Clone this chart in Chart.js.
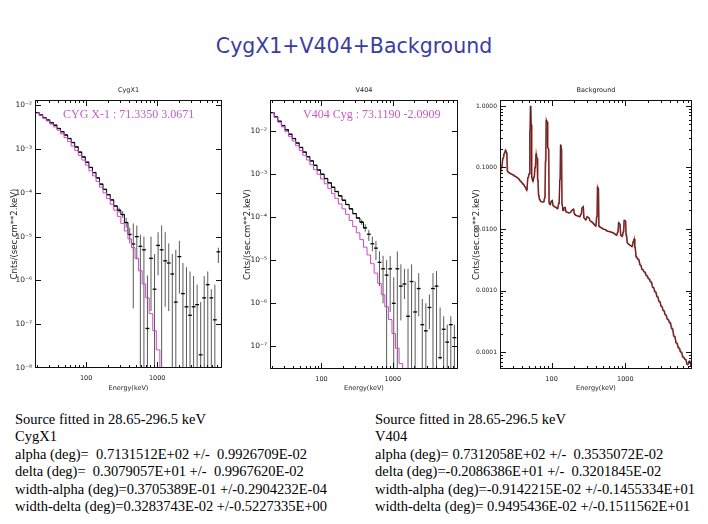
<!DOCTYPE html>
<html><head><meta charset="utf-8">
<script src="https://cdn.jsdelivr.net/npm/chart.js@4.4.0/dist/chart.umd.min.js"></script>
<style>
html,body{margin:0;padding:0;background:#fff;width:708px;height:524px;overflow:hidden;}
body{position:relative;}
canvas{position:absolute;}
#title{position:absolute;left:0;width:708px;top:33px;text-align:center;font-family:"DejaVu Sans";font-size:20.5px;line-height:26px;color:#3c3ca0;}
.txt{position:absolute;font-family:"Liberation Serif";font-size:14.5px;line-height:17.4px;white-space:pre;color:#000;}
.ann{position:absolute;font-family:"Liberation Serif";font-size:12px;line-height:14px;color:#c55ac5;white-space:pre;z-index:5;}
</style></head><body>
<div id="title">CygX1+V404+Background</div>
<canvas id="c1" width="240" height="320" style="left:0;top:80px"></canvas>
<canvas id="c2" width="240" height="320" style="left:240px;top:80px"></canvas>
<canvas id="c3" width="238" height="320" style="left:470px;top:80px"></canvas>
<div class="ann" style="left:63px;top:107px">CYG X-1 : 71.3350 3.0671</div>
<div class="ann" style="left:303px;top:107px">V404 Cyg : 73.1190 -2.0909</div>
<div class="txt" style="left:15px;top:411px">Source fitted in 28.65-296.5 keV
CygX1
alpha (deg)=  0.7131512E+02 +/-  0.9926709E-02
delta (deg)=  0.3079057E+01 +/-  0.9967620E-02
width-alpha (deg)=0.3705389E-01 +/-0.2904232E-04
width-delta (deg)=0.3283743E-02 +/-0.5227335E+00</div>
<div class="txt" style="left:375px;top:411px">Source fitted in 28.65-296.5 keV
V404
alpha (deg)= 0.7312058E+02 +/-  0.3535072E-02
delta (deg)=-0.2086386E+01 +/-  0.3201845E-02
width-alpha (deg)=-0.9142215E-02 +/-0.1455334E+01
width-delta (deg)= 0.9495436E-02 +/-0.1511562E+01</div>
<script>
// ---------------- data ----------------
const energy = [20.6, 23.1, 25.9, 29.1, 32.6, 36.6, 41.1, 46.1, 51.7, 58.0,
  65.1, 73.0, 81.9, 91.9, 103, 116, 130, 146, 163, 183,
  206, 231, 259, 291, 326, 366, 411, 461, 517, 580,
  651, 730, 819, 919, 1031, 1157, 1298, 1456, 1634, 1833,
  2057, 2308, 2589, 2905, 3260, 3657, 4103, 4604, 5166, 5796,
  6503, 7297];

const cygData = [6.8e-3, 6.0e-3, 5.2e-3, 4.6e-3, 4.0e-3, 3.5e-3, 2.95e-3, 2.5e-3, 2.1e-3, 1.74e-3,
  1.41e-3, 1.12e-3, 8.5e-4, 6.6e-4, 5.0e-4, 3.8e-4, 2.9e-4, 2.2e-4, 1.58e-4, 1.2e-4,
  9.1e-5, 6.9e-5, 5.0e-5, 4.0e-5, 3.2e-5, 2.1e-5, 1.12e-5, 6.8e-6, 1.0e-5, 6.0e-6,
  5.0e-6, 8e-8, 3.2e-6, 6.3e-7, 6.3e-6, 5.0e-6, 2.8e-6, 2.5e-6, 1.4e-6, 3.2e-7,
  3.5e-6, 5.0e-7, 2.5e-7, 1.6e-7, 2.5e-7, 2.8e-7, 2.0e-8, 4.0e-7, 8e-7, 4.0e-7,
  1.26e-7, 4.5e-6];
const cygErrLo = [null, null, null, null, null, null, null, null, null, null,
  null, null, null, null, null, null, null, null, null, null,
  null, null, null, 3.5e-5, 2.7e-5, 1.6e-5, 7e-6, 2.3e-7, 3e-6, 1e-10,
  1e-10, 1e-10, 2e-7, 1e-10, 1.3e-6, 1e-10, 2.5e-7, 2e-7, 1e-10, 1e-10,
  5e-7, 1e-10, 1e-10, 1e-10, 1e-10, 1e-10, 1e-10, 1e-10, 1e-10, 1e-10,
  1e-10, 2.5e-6];
const cygErrHi = [null, null, null, null, null, null, null, null, null, null,
  null, null, null, null, null, null, null, null, null, null,
  null, null, null, 4.6e-5, 3.8e-5, 2.7e-5, 1.6e-5, 2.0e-5, 1.8e-5, 1.1e-5,
  1.0e-5, 1.3e-6, 1.0e-5, 4e-6, 1.26e-5, 1.8e-5, 1.26e-5, 7e-6, 4e-6, 5e-6,
  8e-6, 2.5e-6, 2e-6, 1.6e-6, 1.26e-6, 8e-7, 3.2e-7, 1.26e-6, 1.6e-6, 6.3e-7,
  8e-7, 5.6e-6];
const cygModel = [6.8e-3, 5.9e-3, 5.1e-3, 4.4e-3, 3.7e-3, 3.2e-3, 2.7e-3, 2.24e-3, 1.82e-3, 1.48e-3,
  1.17e-3, 9.3e-4, 7.2e-4, 5.6e-4, 4.3e-4, 3.2e-4, 2.45e-4, 1.82e-4, 1.35e-4, 1.0e-4,
  7.4e-5, 5.5e-5, 4.0e-5, 2.9e-5, 2.0e-5, 1.35e-5, 8.9e-6, 5.6e-6, 3.2e-6, 1.66e-6,
  8.3e-7, 4.0e-7, 1.74e-7, 7.1e-8, 2.6e-8, 8.9e-9, 2.8e-9, null, null, null,
  null, null, null, null, null, null, null, null, null, null,
  null, null];

const v404Data = [2.63e-2, 2.09e-2, 1.66e-2, 1.32e-2, 1.05e-2, 8.3e-3, 6.6e-3, 5.2e-3, 4.1e-3, 3.2e-3,
  2.5e-3, 2.0e-3, 1.58e-3, 1.23e-3, 9.8e-4, 7.8e-4, 6.2e-4, 4.9e-4, 3.9e-4, 3.1e-4,
  2.45e-4, 1.95e-4, 1.55e-4, 1.2e-4, 9.5e-5, 7.6e-5, 5.6e-5, 4.0e-5, 2.4e-5, 1.9e-5,
  8.9e-6, 6.3e-6, 4.5e-6, 6.3e-6, 1.0e-6, 6.3e-6, 2.5e-6, 2.8e-6, 5.0e-7, 3.2e-6,
  6.3e-7, 2.2e-6, 3.2e-7, 2.3e-7, 8e-7, 2.2e-6, 2.5e-6, 5.5e-8, 2.5e-7, 1.26e-7,
  3.2e-7, 1.6e-7];
const v404ErrLo = [null, null, null, null, null, null, null, null, null, null,
  null, null, null, null, null, null, null, null, null, null,
  null, null, null, null, null, 6.6e-5, 4.6e-5, 2.8e-5, 1.6e-5, 1.0e-5,
  2.5e-6, 1.0e-6, 1e-10, 6.3e-7, 1e-10, 1e-10, 4e-7, 1.26e-6, 1e-10, 1e-10,
  1e-10, 5e-7, 1e-10, 1e-10, 2.5e-7, 1e-10, 1e-10, 5e-8, 1e-10, 1e-10,
  1e-10, 1e-10];
const v404ErrHi = [null, null, null, null, null, null, null, null, null, null,
  null, null, null, null, null, null, null, null, null, null,
  null, null, null, null, null, 8.7e-5, 6.8e-5, 5.0e-5, 3.5e-5, 2.8e-5,
  1.6e-5, 1.26e-5, 1.0e-5, 1.26e-5, 4e-6, 1.6e-5, 8e-6, 6.3e-6, 6.3e-6, 8e-6,
  3.2e-6, 5e-6, 1.26e-6, 1.0e-6, 1.6e-6, 5e-6, 5.6e-6, 8e-7, 5e-7, 3.2e-7,
  5e-7, 3.2e-7];
const v404Model = [2.63e-2, 2.04e-2, 1.58e-2, 1.23e-2, 9.5e-3, 7.4e-3, 5.8e-3, 4.5e-3, 3.5e-3, 2.7e-3,
  2.1e-3, 1.62e-3, 1.26e-3, 9.8e-4, 7.6e-4, 5.9e-4, 4.6e-4, 3.5e-4, 2.7e-4, 2.0e-4,
  1.55e-4, 1.15e-4, 8.3e-5, 6.0e-5, 4.3e-5, 3.0e-5, 2.0e-5, 1.32e-5, 8.3e-6, 5.0e-6,
  2.9e-6, 1.58e-6, 8.3e-7, 4.2e-7, 2.0e-7, 9.1e-8, 4.0e-8, 1.66e-8, null, null,
  null, null, null, null, null, null, null, null, null, null,
  null, null];

const bgEnergy = [20, 21, 22, 23, 23.8, 24.6, 25.3, 26, 28, 30, 32, 34, 36, 38, 40, 42, 44, 46, 48, 50,
  51, 52, 53, 54, 56, 58, 60, 62, 63.5, 65, 67, 69, 72, 75, 78, 81, 83, 85, 87, 89,
  91, 93, 96, 99, 102, 105, 110, 115, 120, 126, 130, 133, 136, 139, 143, 147, 152, 158, 165, 172,
  180, 188, 198, 205, 215, 228, 240, 252, 260, 268, 276, 290, 305, 320, 335, 355, 375, 395, 412, 421,
  430, 440, 470, 500, 530, 565, 600, 640, 680, 720, 760, 790, 815, 840, 870, 905, 940, 970, 1000, 1030,
  1070, 1120, 1170, 1230, 1290, 1320, 1350, 1410, 1500, 1600, 1700, 1820, 1950, 2080, 2220, 2380, 2550, 2720, 2900, 3100,
  3300, 3520, 3760, 4020, 4300, 4600, 4950, 5300, 5680, 6080, 6500, 6950, 7400, 7800];
const bgCounts = [0.079, 0.100, 0.141, 0.17, 0.19, 0.174, 0.087, 0.083, 0.079, 0.076, 0.072, 0.069, 0.065, 0.060, 0.056, 0.052, 0.048, 0.043, 0.068, 0.079,
  0.40, 1.0, 0.50, 0.068, 0.060, 0.071, 0.10, 0.166, 0.141, 0.063, 0.035, 0.030, 0.028, 0.0275, 0.0275, 0.032, 0.126, 0.59, 0.55, 0.21,
  0.20, 0.026, 0.025, 0.028, 0.029, 0.024, 0.023, 0.0224, 0.0214, 0.026, 0.063, 0.234, 0.20, 0.025, 0.020, 0.022, 0.0224, 0.019, 0.0186, 0.0182,
  0.0186, 0.020, 0.021, 0.0174, 0.0166, 0.0162, 0.0158, 0.0174, 0.022, 0.023, 0.0151, 0.0141, 0.0158, 0.0151, 0.0135, 0.0129, 0.0120, 0.0112, 0.0158, 0.048,
  0.045, 0.011, 0.0105, 0.0100, 0.0098, 0.0093, 0.0091, 0.0089, 0.0087, 0.0083, 0.0079, 0.0089, 0.0126, 0.0120, 0.0079, 0.0076, 0.0089, 0.0138, 0.0135, 0.0079,
  0.0059, 0.0056, 0.0054, 0.0052, 0.0063, 0.0069, 0.0050, 0.0035, 0.0032, 0.0026, 0.0022, 0.0020, 0.00174, 0.00155, 0.00138, 0.00112, 0.00095, 0.00079, 0.00066, 0.00055,
  0.00047, 0.00040, 0.00034, 0.00030, 0.00024, 0.00018, 0.00014, 0.000117, 0.000100, 0.000083, 0.000076, 0.000063, 0.000071, 0.000060];

const xTickValues = [100, 1000];
const xTickLabels = ['100', '1000'];
const srcYTickValues = [1e-2, 1e-3, 1e-4, 1e-5, 1e-6, 1e-7, 1e-8];
const srcYTickLabels = ['10⁻²', '10⁻³', '10⁻⁴', '10⁻⁵', '10⁻⁶', '10⁻⁷', '10⁻⁸'];
const bgYTickValues = [1, 0.1, 0.01, 0.001, 0.0001];
const bgYTickLabels = ['1.0000', '0.1000', '0.0100', '0.0010', '0.0001'];
const panelTitles = ['CygX1', 'V404', 'Background'];

// ---------------- helpers ----------------
const pts = (xs, ys) => xs.map((x, i) => ({x: x, y: ys[i]}));
const errPts = (xs, lo, hi) => {
  const out = [];
  xs.forEach((x, i) => {
    if (lo[i] == null) return;
    out.push({x: x, y: lo[i]}, {x: x, y: hi[i]}, {x: x, y: null});
  });
  return out;
};
const FONT = 'DejaVu Sans';
const INK = '#222';

function minorMarks(min, max) {
  const out = [];
  let d = Math.pow(10, Math.floor(Math.log10(min)));
  while (d <= max) {
    for (let k = 2; k <= 9; k++) { const v = k * d; if (v > min && v < max) out.push(v); }
    d *= 10;
  }
  return out;
}

const framePlugin = {
  id: 'frame',
  afterDatasetsDraw(chart, args, opts) {
    const {ctx, chartArea: a} = chart;
    const xs = chart.scales.x, ys = chart.scales.y;
    ctx.save();
    ctx.strokeStyle = '#111';
    ctx.lineWidth = 1;
    ctx.strokeRect(Math.round(a.left) + 0.5, Math.round(a.top) + 0.5, Math.round(a.right - a.left) - 1, Math.round(a.bottom - a.top) - 1);
    const seg = (x1, y1, x2, y2) => { ctx.beginPath(); ctx.moveTo(x1, y1); ctx.lineTo(x2, y2); ctx.stroke(); };
    const xm = [...xTickValues.map(v => [v, 6]), ...minorMarks(xs.min, xs.max).map(v => [v, 3])];
    xm.forEach(([v, len]) => {
      const p = Math.round(xs.getPixelForValue(v)) + 0.5;
      if (p <= a.left || p >= a.right) return;
      seg(p, a.bottom, p, a.bottom - len);
      seg(p, a.top, p, a.top + len);
    });
    const ym = opts.yMajor.map(v => [v, 6]);
    if (opts.yMinor) minorMarks(ys.min, ys.max).forEach(v => ym.push([v, 3]));
    ym.forEach(([v, len]) => {
      const p = Math.round(ys.getPixelForValue(v)) + 0.5;
      if (p <= a.top || p >= a.bottom) return;
      seg(a.left, p, a.left + len, p);
      seg(a.right, p, a.right - len, p);
    });
    ctx.restore();
  }
};

function makeChart(id, c) {
  return new Chart(document.getElementById(id), {
    type: 'line',
    data: {datasets: c.datasets},
    options: {
      responsive: false, animation: false, devicePixelRatio: 1,
      layout: {padding: {left: 0, right: c.padRight, top: 0, bottom: 0}},
      elements: {point: {radius: 0}},
      plugins: {
        legend: {display: false}, tooltip: {enabled: false},
        title: {display: true, text: c.title, fullSize: false, color: INK,
          font: {family: FONT, size: 6.5, lineHeight: 1.2, weight: 'normal'}, padding: {top: 6, bottom: 6.2}},
        frame: {yMajor: c.yTicks, yMinor: c.yMinor}
      },
      scales: {
        x: {
          type: 'logarithmic', min: c.xMin, max: c.xMax, offset: false,
          grid: {display: false, drawTicks: false, offset: false}, border: {display: false},
          afterBuildTicks: s => { s.ticks = xTickValues.map(v => ({value: v})); },
          ticks: {autoSkip: false, maxRotation: 0, padding: 6, color: INK,
            font: {family: FONT, size: 6.5}, callback: (v, i) => xTickLabels[i]},
          title: {display: true, text: 'Energy(keV)', color: INK, font: {family: FONT, size: 6.5},
            padding: {top: 0, bottom: 8.1}},
          afterFit: s => { s.height = c.xHeight; }
        },
        y: {
          type: 'logarithmic', min: c.yMin, max: c.yMax,
          grid: {display: false, drawTicks: false}, border: {display: false},
          afterBuildTicks: s => { s.ticks = c.yTicks.map(v => ({value: v})); },
          ticks: {autoSkip: false, padding: 3, color: INK,
            font: {family: FONT, size: c.yTickSize}, callback: (v, i) => c.yLabels[i]},
          title: {display: true, text: 'Cnts/(sec.cm**2.keV)', color: INK,
            font: {family: FONT, size: 8.5, lineHeight: 1.2}, padding: {top: c.yTitlePad, bottom: 0}},
          afterFit: s => { s.width = c.yWidth; }
        }
      }
    },
    plugins: [framePlugin]
  });
}

function sourceDatasets(data, lo, hi, model) {
  return [
    {label: 'model', data: pts(energy, model), borderColor: '#cc44cc', borderWidth: 1,
      stepped: 'middle', spanGaps: false, pointRadius: 0},
    {label: 'data', data: pts(energy, data), borderColor: '#000', borderWidth: 1,
      stepped: 'middle', pointStyle: 'line', pointRadius: 1.9, pointBorderWidth: 1.3,
      pointBorderColor: '#000',
      segment: {borderColor: s => s.p0.parsed.x > 380 ? 'rgba(0,0,0,0)' : '#000'}},
    {label: 'errors', data: errPts(energy, lo, hi), borderColor: '#5a5a5a', borderWidth: 1,
      spanGaps: false, pointRadius: 0}
  ];
}

makeChart('c1', {
  title: panelTitles[0], padRight: 18, xHeight: 32, yWidth: 35, yTitlePad: 9.9,
  xMin: 19, xMax: 8200, yMin: 1e-8, yMax: 0.0132,
  yTicks: srcYTickValues, yLabels: srcYTickLabels, yTickSize: 7.5, yMinor: false,
  datasets: sourceDatasets(cygData, cygErrLo, cygErrHi, cygModel)
});
makeChart('c2', {
  title: panelTitles[1], padRight: 22, xHeight: 31, yWidth: 30, yTitlePad: 2.9,
  xMin: 19, xMax: 8200, yMin: 3.4e-8, yMax: 0.0516,
  yTicks: srcYTickValues.slice(0, 6), yLabels: srcYTickLabels.slice(0, 6), yTickSize: 7.5, yMinor: false,
  datasets: sourceDatasets(v404Data, v404ErrLo, v404ErrHi, v404Model)
});
makeChart('c3', {
  title: panelTitles[2], padRight: 16, xHeight: 31, yWidth: 30, yTitlePad: 1.9,
  xMin: 20, xMax: 8000, yMin: 5.3e-5, yMax: 1.25,
  yTicks: bgYTickValues, yLabels: bgYTickLabels, yTickSize: 6, yMinor: true,
  datasets: [
    {label: 'bg-step', data: pts(bgEnergy, bgCounts), borderColor: '#1a1a1a', borderWidth: 0.7,
      stepped: 'middle', pointRadius: 0},
    {label: 'bg', data: pts(bgEnergy, bgCounts), borderColor: '#d24848', borderWidth: 1.6, pointRadius: 0}
  ]
});
</script>
</body></html>
